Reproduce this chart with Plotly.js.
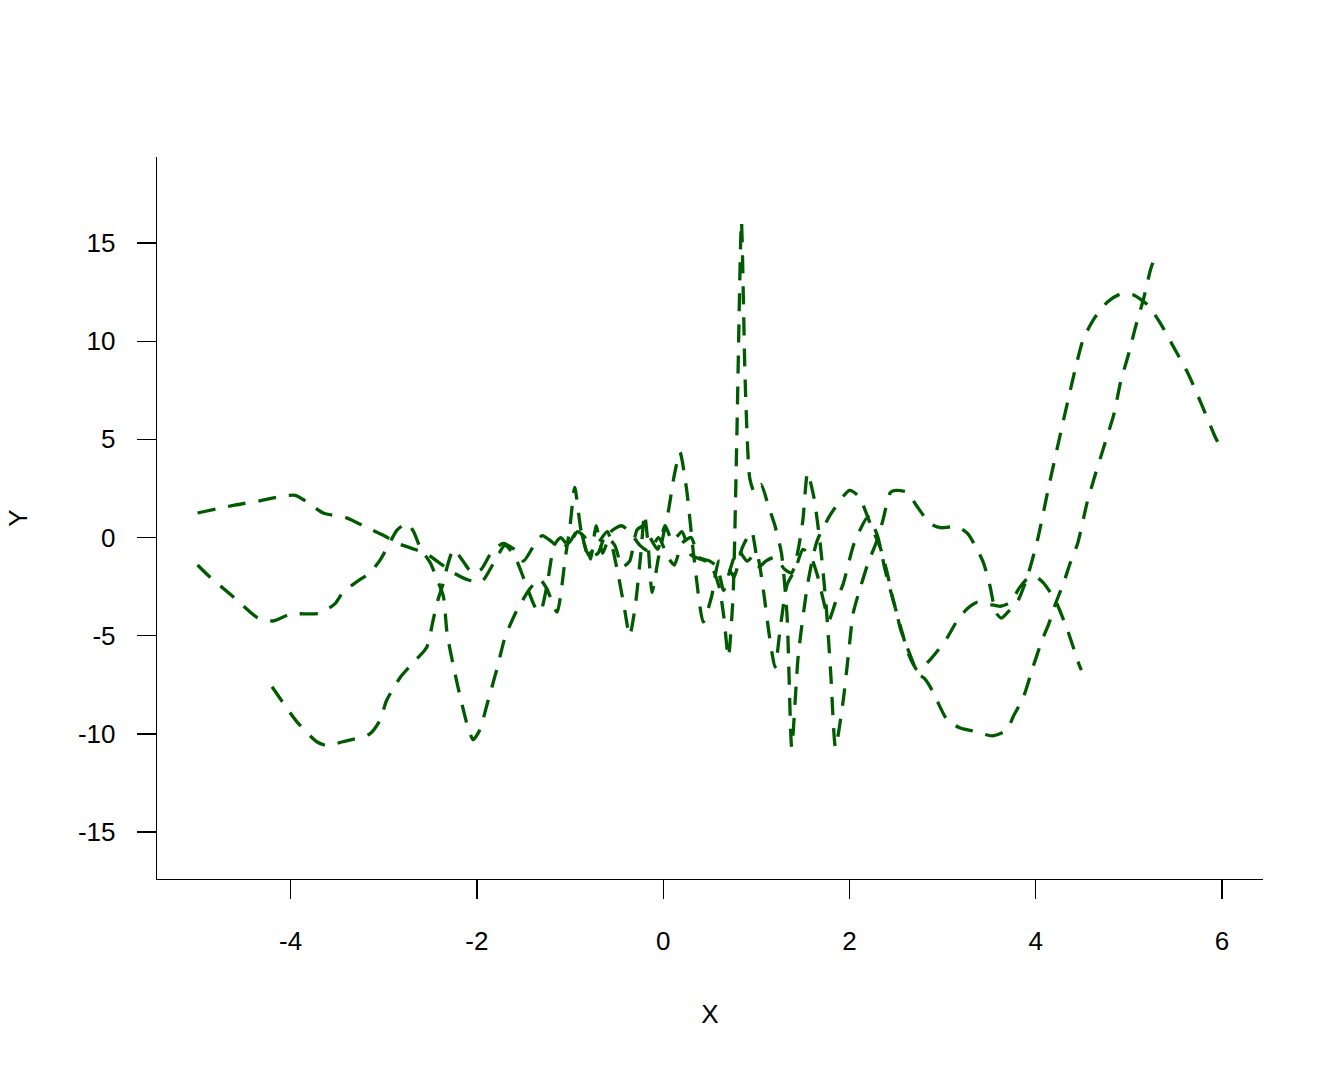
<!DOCTYPE html>
<html>
<head>
<meta charset="utf-8">
<script src="https://cdn.plot.ly/plotly-3.0.1.min.js"></script>
<style>html,body{margin:0;padding:0;background:#fff;}#chart{width:1344px;height:1075px;}</style>
</head>
<body>
<div id="chart"></div>
<script>
// Series 1
const x1 = [-5.0,-4.6,-4.3,-4.1,-3.95,-3.82,-3.65,-3.4,-3.2,-3.0,-2.85,-2.7,-2.55,-2.4,-2.25,-2.1,-1.95,-1.82,-1.7,-1.6,-1.48,-1.38,-1.32,-1.25,-1.17,-1.1,-1.02,-0.92,-0.84,-0.78,-0.72,-0.65,-0.56,-0.45,-0.36,-0.25,-0.15,-0.05,0.05,0.12,0.2,0.3,0.38,0.5,0.58,0.65,0.72,0.8,0.9,1.0,1.07,1.14,1.2,1.26,1.33,1.42,1.5,1.58,1.66,1.72,1.78,1.85,1.93,2.05,2.2,2.3,2.38,2.44,2.5,2.55,2.62,2.67,2.73,2.81,2.89,2.95,3.05,3.19,3.37,3.53,3.69,3.76,3.87,3.97,4.07,4.14,4.21,4.3,4.37,4.45,4.55,4.62,4.73,4.84,4.91,5.0,5.07,5.16,5.23,5.28];
const y1 = [1.25,1.65,1.9,2.1,2.15,1.8,1.25,1.0,0.55,0.1,-0.3,-0.55,-0.8,-1.3,-1.8,-2.15,-2.25,-1.3,-0.4,-0.9,-2.3,-3.5,-3.8,-2.5,-0.4,0.0,-0.4,0.3,0.0,-1.1,0.6,-0.8,0.3,0.6,0.3,-0.4,-0.7,0.0,-1.0,-1.4,-0.3,0.0,-1.0,-1.2,-1.5,-2.7,-1.6,-0.6,-1.2,-0.8,-2.5,-5.0,-6.6,-4.5,-2.4,-1.6,-0.6,-0.9,-2.0,-3.2,-4.2,-3.3,-2.4,-0.3,1.05,0.1,-1.6,-2.7,-3.7,-4.7,-5.6,-6.2,-6.9,-7.2,-7.8,-8.4,-9.3,-9.7,-9.9,-10.1,-9.8,-9.1,-8.1,-6.6,-5.2,-4.4,-3.4,-2.3,-1.3,-0.3,1.75,2.9,4.6,6.3,7.9,9.4,10.7,12.2,13.6,14.3];

// Series 2
const x2 = [-5.0,-4.87,-4.62,-4.35,-4.19,-4.0,-3.68,-3.52,-3.44,-3.29,-3.15,-3.04,-2.95,-2.86,-2.75,-2.68,-2.61,-2.5,-2.43,-2.36,-2.32,-2.25,-2.18,-2.1,-2.04,-1.97,-1.88,-1.78,-1.7,-1.57,-1.43,-1.33,-1.25,-1.14,-1.05,-1.0,-0.95,-0.88,-0.8,-0.7,-0.6,-0.5,-0.42,-0.36,-0.3,-0.24,-0.2,-0.16,-0.12,-0.05,0.05,0.12,0.18,0.25,0.33,0.43,0.52,0.6,0.68,0.76,0.85,0.95,1.03,1.1,1.2,1.3,1.38,1.45,1.5,1.55,1.62,1.69,1.75,1.8,1.85,1.93,1.99,2.04,2.12,2.2,2.3,2.36,2.44,2.5,2.62,2.73,2.87,2.98,3.16,3.27,3.37,3.44,3.51,3.57,3.63,3.7,3.8,3.91,4.02,4.14,4.28,4.43,4.51,4.62,4.77,4.91,5.05,5.2,5.34,5.48,5.63,5.77,5.91,5.96];
const y2 = [-1.4,-2.0,-3.0,-4.1,-4.25,-3.9,-3.85,-3.35,-2.8,-2.25,-1.8,-1.15,-0.4,0.37,0.73,0.3,-0.5,-1.3,-2.1,-3.0,-4.9,-6.6,-8.1,-9.6,-10.3,-9.8,-8.3,-6.6,-5.1,-3.7,-2.6,-2.1,-2.6,-3.8,-1.0,0.6,2.55,0.3,-0.9,-0.3,0.3,-1.5,-3.5,-5.0,-3.5,-0.8,1.2,-0.5,-2.8,-1.0,1.2,3.2,4.35,2.5,-1.0,-4.3,-3.0,-1.2,-1.4,-2.0,-0.5,0.3,-1.5,-1.2,-1.0,-1.6,-1.8,-0.6,0.9,3.3,2.0,-0.5,-3.5,-7.0,-10.7,-8.4,-5.9,-3.85,-2.5,-1.3,-0.1,0.9,2.3,2.4,2.3,1.55,0.7,0.5,0.55,0.2,-0.6,-1.3,-2.5,-3.8,-4.1,-3.8,-3.3,-2.0,-0.1,2.6,5.6,8.7,10.1,11.1,12.0,12.4,12.35,11.85,10.9,9.7,8.4,6.9,5.3,4.8];

// Series 3
const x3 = [-4.2,-3.93,-3.72,-3.61,-3.44,-3.15,-3.04,-2.97,-2.82,-2.69,-2.54,-2.47,-2.42,-2.36,-2.32,-2.25,-2.15,-2.05,-1.95,-1.85,-1.72,-1.6,-1.5,-1.4,-1.3,-1.2,-1.1,-1.0,-0.9,-0.8,-0.7,-0.62,-0.52,-0.44,-0.36,-0.28,-0.2,-0.14,-0.06,0.02,0.1,0.2,0.3,0.4,0.5,0.6,0.65,0.7,0.75,0.79,0.84,0.88,0.93,0.98,1.05,1.13,1.2,1.27,1.33,1.38,1.45,1.55,1.65,1.8,2.0,2.1,2.24,2.33,2.4,2.47,2.57,2.63,2.73,2.83,2.94,3.05,3.16,3.27,3.37,3.5,3.62,3.73,3.82,3.91,4.0,4.08,4.21,4.34,4.46,4.49];
const y3 = [-7.6,-9.4,-10.4,-10.6,-10.4,-10.0,-9.3,-8.3,-7.1,-6.4,-5.6,-4.2,-3.2,-2.3,-1.5,-0.6,-1.2,-1.8,-1.6,-0.8,-0.3,-0.6,-1.2,-0.5,0.1,-0.2,-0.6,-0.2,0.5,-1.0,-0.8,0.1,-0.4,-1.5,-1.2,0.4,0.6,0.0,-0.6,0.6,-0.2,0.3,-0.9,-1.1,-1.3,-2.5,-4.0,-6.1,-3.0,5.0,16.1,8.0,3.0,2.3,2.7,1.6,0.6,-0.8,-4.0,-10.7,-6.0,-2.4,-0.2,1.2,2.4,2.1,0.5,-0.5,-1.7,-3.2,-4.9,-5.9,-6.75,-6.4,-5.8,-5.1,-4.2,-3.6,-3.3,-3.4,-3.5,-3.3,-2.6,-2.1,-2.0,-2.3,-3.2,-4.7,-6.4,-6.75];

const lineStyle = {color: '#005a00', width: 3.3, dash: '18px,13px', shape: 'spline', smoothing: 0.6};
const traces = [[x1,y1],[x2,y2],[x3,y3]].map(([x,y]) => ({
  x: x, y: y, type: 'scatter', mode: 'lines', line: lineStyle, hoverinfo: 'skip', showlegend: false
}));

const xTicks = [-4,-2,0,2,4,6];
const yTicks = [-15,-10,-5,0,5,10,15];
const font = {family: 'Arial, "Liberation Sans", Helvetica, sans-serif', size: 26, color: '#000'};

const layout = {
  width: 1344, height: 1075,
  margin: {l: 157, r: 81, t: 157, b: 196},
  paper_bgcolor: '#fff', plot_bgcolor: '#fff',
  font: font,
  showlegend: false,
  xaxis: {
    range: [-5.435, 6.44], tickvals: xTicks, ticktext: xTicks.map(String),
    showgrid: false, zeroline: false, showline: true, linecolor: '#000', linewidth: 1.3,
    ticks: 'outside', ticklen: 19, tickwidth: 1.3, tickcolor: '#000',
    ticklabelstandoff: 19,
    title: {text: 'X', font: font, standoff: 50}
  },
  yaxis: {
    range: [-17.39, 19.38], tickvals: yTicks, ticktext: yTicks.map(String),
    showgrid: false, zeroline: false, showline: true, linecolor: '#000', linewidth: 1.3,
    ticks: 'outside', ticklen: 19, tickwidth: 1.3, tickcolor: '#000',
    ticklabelstandoff: 16,
    title: {text: 'Y', font: font, standoff: 42}
  }
};

Plotly.newPlot('chart', traces, layout, {displayModeBar: false, staticPlot: true});
</script>
</body>
</html>
